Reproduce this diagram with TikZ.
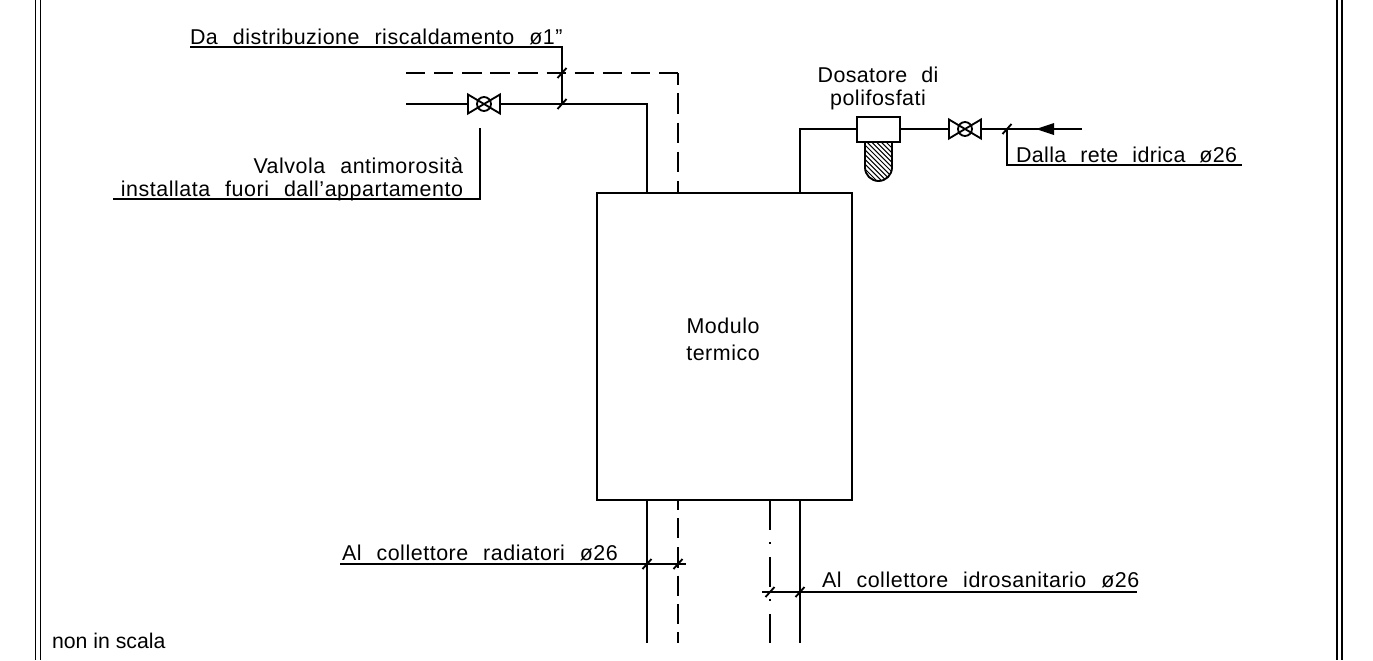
\documentclass[tikz,border=0pt]{standalone}
\usepackage{fontspec}
\setmainfont[WordSpace=2.3,LetterSpace=2.5]{Liberation Sans}
\newfontfamily\plainfont{Liberation Sans}
\newfontfamily\tightfont[WordSpace=2.2,LetterSpace=1.8]{Liberation Sans}
\newcommand{\valveglyph}[1]{%
  \draw[pipe,line join=miter] (#1.south west) -- (#1.north west) -- (#1.south east) -- (#1.north east) -- cycle;
  \draw[pipe] (#1.center) circle (0.14cm);}
\newcommand{\tickmark}[1]{\draw[pipe] ([shift={(-4.5,5)}]#1) -- ([shift={(4.5,-5)}]#1);}
\tikzset{
  x=0.02cm,y=-0.02cm,
  pipe/.style={line width=1.05pt,black},
  thinpipe/.style={line width=1pt,black},
  frameline/.style={line width=1.05pt,black},
  longdash/.style={pipe,dash pattern=on 11pt off 5pt},
  dashdot/.style={pipe,dash pattern=on 17pt off 7.1pt on 1.2pt off 7.1pt},
  valvebox/.style={minimum width=0.64cm,minimum height=0.38cm,inner sep=0pt,outer sep=0pt},
  lbl/.style={inner sep=0pt,outer sep=0pt,font=\fontsize{12.2}{14}\selectfont},
}
\begin{document}
\begin{tikzpicture}
\path[use as bounding box,fill=white] (0,0) rectangle (1373,660);
% frame
\coordinate (fla) at (35.5,0); \coordinate (flb) at (35.5,660);
\coordinate (fma) at (40.5,0); \coordinate (fmb) at (40.5,660);
\coordinate (fna) at (1337,0); \coordinate (fnb) at (1337,660);
\coordinate (foa) at (1342,0); \coordinate (fob) at (1342,660);
\draw[frameline] (fla) -- (flb) (fma) -- (fmb) (fna) -- (fnb) (foa) -- (fob);
% main box
\node[draw,pipe,minimum width=5.1cm,minimum height=6.14cm,inner sep=0pt,outer sep=0pt] (modulo) at (724.5,346.5) {};
\node[lbl,anchor=base] (modA) at (723,333) {Modulo};
\node[lbl,anchor=base] (modB) at (723,360) {termico};
% top-left pipes
\coordinate (pa) at (406,104);
\node[valvebox] (v1) at (484,104) {};
\coordinate (pb) at (647,104);
\coordinate (pc) at (647,193);
\draw[pipe] (pa) -- (v1.west);
\draw[pipe] (v1.east) -- (pb) -- (pc);
\valveglyph{v1}
\coordinate (da) at (406,73);
\coordinate (db) at (678,73);
\coordinate (dc) at (678,193);
\draw[longdash] (da) -- (db);
\draw[pipe,dash pattern=on 6.8pt off 4.8pt on 11.8pt off 4.8pt on 11.8pt off 4.8pt on 11.8pt off 4.8pt on 11.8pt off 4.8pt] (db) -- (dc);
% leader top
\coordinate (la) at (190,47);
\coordinate (lb) at (562,47);
\coordinate (lc) at (562,73);
\coordinate (ld) at (562,104);
\draw[thinpipe] (la) -- (lb) -- (ld);
\tickmark{lc}\tickmark{ld}
\node[lbl,anchor=base west] (t1) at (190,44) {Da distribuzione riscaldamento ø1”};
% leader valve
\coordinate (va) at (480,128);
\coordinate (vb) at (480,199);
\coordinate (vc) at (113,199);
\draw[thinpipe] (va) -- (vb) -- (vc);
\node[lbl,anchor=base east] (t2) at (463,173) {Valvola antimorosità};
\node[lbl,anchor=base east] (t3) at (463,196) {installata fuori dall’appartamento};
% right pipe
\coordinate (ra) at (800,193);
\coordinate (rb) at (800,129);
\node[draw,pipe,fill=white,minimum width=0.86cm,minimum height=0.5cm,inner sep=0pt,outer sep=0pt] (dos) at (878.5,129.5) {};
\node[valvebox] (v2) at (965,129) {};
\coordinate (rc) at (1082,129);
\coordinate (rt) at (1007,129);
\draw[pipe] (ra) -- (rb) -- (dos.west |- rb);
\draw[pipe] (dos.east |- rb) -- (v2.west);
\draw[pipe] (v2.east) -- (rc);
\valveglyph{v2}
\tickmark{rt}
% flow arrow
\coordinate (ar1) at (1036,129); \coordinate (ar2) at (1054,123); \coordinate (ar3) at (1054,135);
\fill[black] (ar1) -- (ar2) -- (ar3) -- cycle;
% hatched filter
\begin{scope}
\clip (865,142) -- (892,142) -- (892,167.5) arc[start angle=0,end angle=180,radius=0.27cm,y radius=-0.27cm] -- cycle;
\foreach \k in {-9,...,7}{
  \draw[line width=0.6pt] (845+4.8*\k,125) -- +(70,70);
}
\end{scope}
\draw[pipe] (865,142) -- (865,167.5) arc[start angle=180,end angle=0,radius=0.27cm,y radius=-0.27cm] -- (892,142);
\node[lbl,anchor=base] (t4) at (878,82) {\tightfont Dosatore di};
\node[lbl,anchor=base] (t5) at (878,105) {polifosfati};
% leader water
\coordinate (wa) at (1007,165);
\coordinate (wb) at (1242,165);
\draw[thinpipe] (rt) -- (wa) -- (wb);
\node[lbl,anchor=base west] (t6) at (1016,162) {\tightfont Dalla rete idrica ø26};
% bottom pipes
\coordinate (b1a) at (647,500); \coordinate (b1b) at (647,643);
\coordinate (b2a) at (678,500); \coordinate (b2b) at (678,643);
\coordinate (b3a) at (770,500); \coordinate (b3b) at (770,643);
\coordinate (b4a) at (800,500); \coordinate (b4b) at (800,643);
\draw[pipe] (b1a) -- (b1b);
\draw[pipe,dash pattern=on 5.7pt off 4.6pt on 11.6pt off 5pt on 11.6pt off 4.6pt on 11.4pt off 4.6pt on 11.4pt off 4.6pt on 11.4pt off 5pt] (b2a) -- (b2b);
\draw[dashdot] (b3a) -- (b3b);
\draw[pipe] (b4a) -- (b4b);
% bottom leaders
\coordinate (l1a) at (340,564);
\coordinate (l1b) at (686,564);
\coordinate (tk1) at (647,564);
\coordinate (tk2) at (678,564);
\draw[thinpipe] (l1a) -- (l1b);
\tickmark{tk1}\tickmark{tk2}
\node[lbl,anchor=base west] (t7) at (342,560) {Al collettore radiatori ø26};
\coordinate (l2a) at (762,592);
\coordinate (l2b) at (1137,592);
\coordinate (tk3) at (770,592);
\coordinate (tk4) at (800,592);
\draw[thinpipe] (l2a) -- (l2b);
\tickmark{tk3}\tickmark{tk4}
\node[lbl,anchor=base west] (t8) at (822,587) {Al collettore idrosanitario ø26};
\node[inner sep=0pt,outer sep=0pt,anchor=base west,font=\plainfont\fontsize{12.1}{14}\selectfont] (t9) at (52,648) {non in scala};
\end{tikzpicture}
\end{document}
